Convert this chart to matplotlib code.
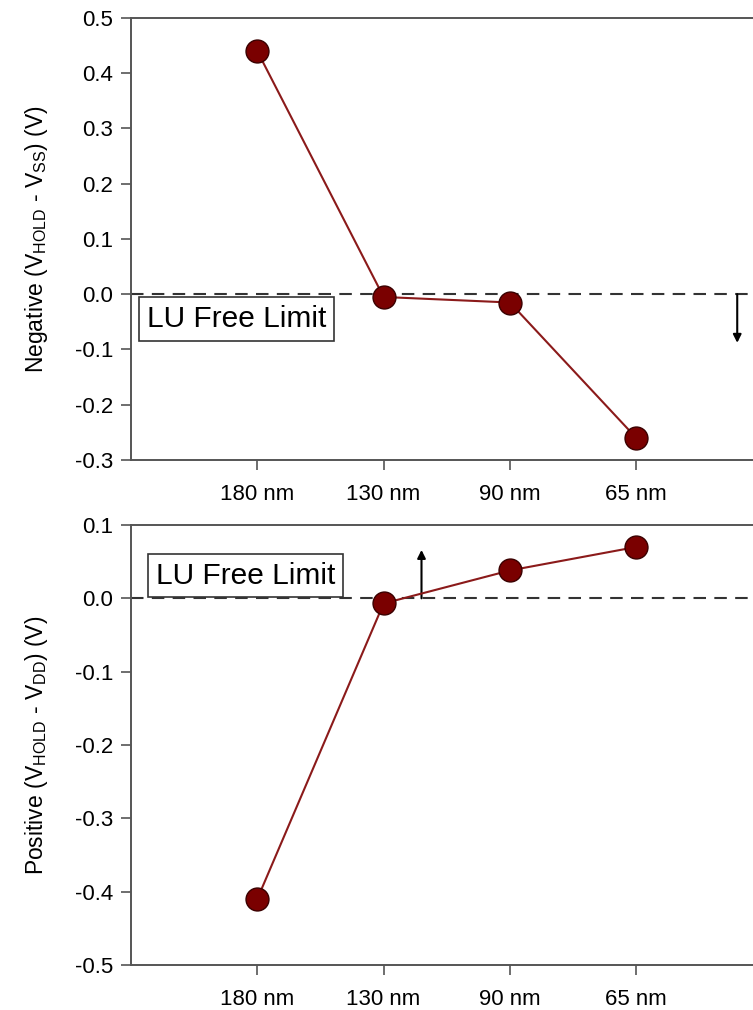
import matplotlib
matplotlib.use("Agg")
import matplotlib.pyplot as plt

plt.rcParams["font.family"] = ["Liberation Sans", "DejaVu Sans"]
plt.rcParams["mathtext.fontset"] = "custom"
plt.rcParams["mathtext.rm"] = "Liberation Sans"

nodes = ["180 nm", "130 nm", "90 nm", "65 nm"]
neg_hold = [0.44, -0.005, -0.015, -0.26]
pos_hold = [-0.41, -0.007, 0.038, 0.07]

neg_ticks = [0.5, 0.4, 0.3, 0.2, 0.1, 0.0, -0.1, -0.2, -0.3]
pos_ticks = [0.1, 0.0, -0.1, -0.2, -0.3, -0.4, -0.5]

line_col = "#8b1a1a"
mark_col = "#7a0000"
spine_col = "#555555"

fig = plt.figure(figsize=(7.53, 10.10), dpi=100)
ax1 = fig.add_axes([0.174, 0.5446, 0.8386, 0.4376])
ax2 = fig.add_axes([0.174, 0.0446, 0.8386, 0.4356])

x = list(range(1, len(nodes) + 1))


def style(ax, yvals, ticks, ylabel):
    ax.plot(x, yvals, color=line_col, lw=1.5, marker="o", ms=16.5,
            mfc=mark_col, mec="#3a0000", mew=1.0, zorder=4)
    ax.axhline(0, color="#333333", lw=1.5, ls=(0, (6, 4)), zorder=2)
    ax.set_xlim(0, 5)
    ax.set_ylim(min(ticks), max(ticks))
    ax.set_yticks(ticks)
    ax.set_yticklabels([f"{t:.1f}" for t in ticks])
    ax.set_xticks(x)
    ax.set_xticklabels(nodes)
    ax.tick_params(axis="both", direction="out", length=7, width=1.2,
                   color=spine_col, labelsize=16, pad=6)
    ax.tick_params(axis="x", pad=10)
    for s in ax.spines.values():
        s.set_color(spine_col)
        s.set_linewidth(1.4)
    ax.spines["right"].set_visible(False)
    ax.set_ylabel(ylabel, fontsize=16.5, labelpad=10)


style(ax1, neg_hold, neg_ticks,
      r"Negative (V$_{\mathregular{HOLD}}$ - V$_{\mathregular{SS}}$) (V)")
style(ax2, pos_hold, pos_ticks,
      r"Positive (V$_{\mathregular{HOLD}}$ - V$_{\mathregular{DD}}$) (V)")

ax1.yaxis.set_label_coords(-0.128, 0.5)
ax2.yaxis.set_label_coords(-0.128, 0.5)

box = dict(boxstyle="square,pad=0.26", fc="white", ec="#333333", lw=1.2)
ax1.text(0.125, -0.045, "LU Free Limit", fontsize=21.5, va="center", ha="left",
         bbox=box, zorder=5)
ax2.text(0.195, 0.031, "LU Free Limit", fontsize=21.5, va="center", ha="left",
         bbox=box, zorder=5)

ax1.annotate("", xy=(4.8, -0.088), xytext=(4.8, 0.0),
             arrowprops=dict(arrowstyle="-|>", color="black", lw=1.5,
                             mutation_scale=12, shrinkA=0, shrinkB=0))
ax2.annotate("", xy=(2.3, 0.066), xytext=(2.3, 0.0),
             arrowprops=dict(arrowstyle="-|>", color="black", lw=1.5,
                             mutation_scale=12, shrinkA=0, shrinkB=0))

fig.savefig("out.png", dpi=100, facecolor="white")
